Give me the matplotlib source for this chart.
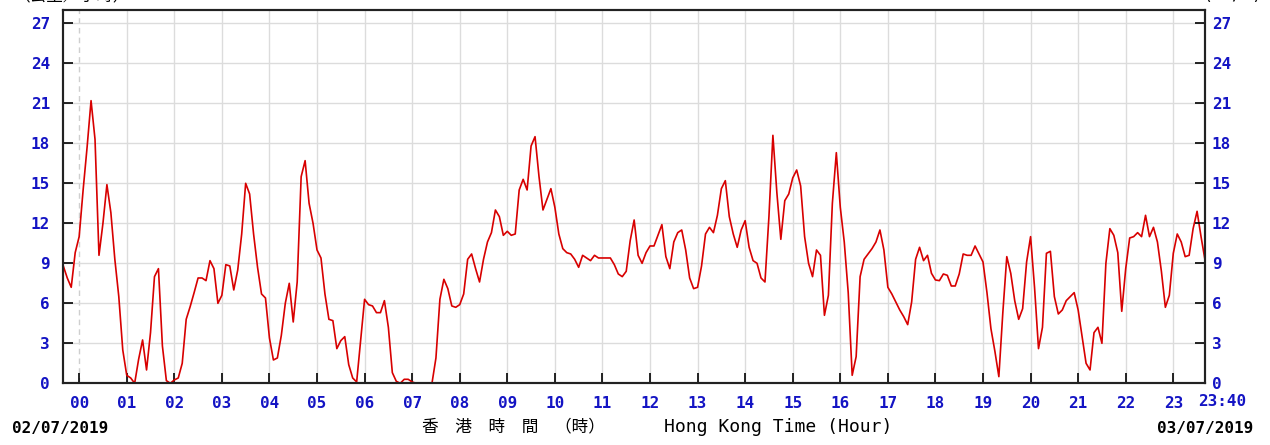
import numpy as np
import matplotlib
matplotlib.use('Agg')
import matplotlib.pyplot as plt

# wind speed (km/h), one reading every 5 minutes starting 23:40 of the previous day
start_min = -20
step_min = 5
speed = [
    8.8, 7.9, 7.2, 9.8,
    11.0, 14.5, 17.7, 21.2, 18.3, 9.6, 12.0, 14.9, 12.8, 9.3, 6.5, 2.5,
    0.6, 0.4, 0.0, 1.8, 3.25, 1.0, 3.8, 8.0, 8.6, 2.8, 0.2, 0.0,
    0.25, 0.4, 1.5, 4.8, 5.75, 6.8, 7.9, 7.9, 7.7, 9.2, 8.6, 6.0,
    6.6, 8.9, 8.8, 7.0, 8.5, 11.2, 15.0, 14.2, 11.2, 8.7, 6.7, 6.4,
    3.4, 1.75, 1.9, 3.6, 6.0, 7.5, 4.6, 7.6, 15.5, 16.7, 13.5, 12.0,
    10.0, 9.4, 6.7, 4.8, 4.7, 2.6, 3.2, 3.5, 1.4, 0.4, 0.1, 3.2,
    6.3, 5.9, 5.8, 5.3, 5.3, 6.2, 4.2, 0.8, 0.15, 0.0, 0.3, 0.3,
    0.1, 0.0, 0.0, 0.0, 0.0, 0.0, 1.9, 6.3, 7.8, 7.1, 5.8, 5.7,
    5.9, 6.7, 9.3, 9.7, 8.6, 7.6, 9.3, 10.6, 11.3, 13.0, 12.5, 11.1,
    11.4, 11.1, 11.2, 14.5, 15.3, 14.5, 17.8, 18.5, 15.5, 13.0, 13.8, 14.6,
    13.2, 11.2, 10.1, 9.8, 9.7, 9.3, 8.7, 9.6, 9.4, 9.2, 9.6, 9.4,
    9.4, 9.4, 9.4, 8.9, 8.2, 8.0, 8.4, 10.7, 12.25, 9.6, 9.0, 9.8,
    10.3, 10.3, 11.1, 11.9, 9.5, 8.6, 10.6, 11.3, 11.5, 10.0, 7.9, 7.1,
    7.2, 8.8, 11.2, 11.7, 11.3, 12.6, 14.6, 15.2, 12.5, 11.2, 10.2, 11.5,
    12.2, 10.2, 9.2, 9.0, 7.9, 7.6, 12.5, 18.6, 14.3, 10.8, 13.7, 14.2,
    15.4, 16.0, 14.8, 11.0, 9.0, 8.0, 10.0, 9.6, 5.1, 6.6, 13.5, 17.3,
    13.2, 10.6, 6.8, 0.6, 2.0, 8.0, 9.3, 9.7, 10.1, 10.6, 11.5, 10.0,
    7.2, 6.7, 6.1, 5.5, 5.0, 4.4, 6.1, 9.3, 10.2, 9.2, 9.6, 8.25,
    7.75, 7.7, 8.2, 8.1, 7.3, 7.3, 8.2, 9.7, 9.6, 9.6, 10.3, 9.7,
    9.1, 6.8, 4.1, 2.4, 0.5, 5.3, 9.5, 8.25, 6.2, 4.8, 5.6, 9.1,
    11.0, 7.2, 2.6, 4.2, 9.75, 9.9, 6.5, 5.2, 5.5, 6.2, 6.5, 6.8,
    5.5, 3.5, 1.5, 1.0, 3.8, 4.2, 3.0, 9.0, 11.6, 11.1, 9.8, 5.4,
    8.6, 10.9, 11.0, 11.3, 11.0, 12.6, 11.0, 11.7, 10.6, 8.4, 5.7, 6.6,
    9.75, 11.2, 10.6, 9.5, 9.6, 11.6, 12.9, 11.0, 9.25,
]
hour_labels = ['%02d' % h for h in range(24)]
y_ticks = list(range(0, 28, 3))
date_left = '02/07/2019'
date_right = '03/07/2019'
end_label = '23:40'

minutes = start_min + step_min * np.arange(len(speed))
hours = minutes / 60.0

W, H = 1270, 445
fig = plt.figure(figsize=(W / 100, H / 100), dpi=100)
ax = fig.add_axes([63.3 / W, (H - 383.3) / H, (1205 - 63.3) / W, (383.3 - 10) / H])

blue = '#1414c4'
tick_font = dict(family='DejaVu Sans Mono', weight='bold', size=11.5)

ax.plot(hours, speed, color='#d80000', lw=1.2)

ax.set_xlim(start_min / 60, minutes[-1] / 60)
ax.set_ylim(0, 28)

# grid
for h in range(1, 24):
    ax.axvline(h, color='#dcdcdc', lw=1, zorder=0)
ax.axvline(0, color='#cfcfcf', lw=1, ls=(0, (4, 3)), zorder=0)
for v in y_ticks:
    ax.axhline(v, color='#dcdcdc', lw=1, zorder=0)

ax.set_xticks(range(24))
ax.set_xticklabels(hour_labels, color=blue, **tick_font)
ax.set_yticks(y_ticks)
ax.set_yticklabels([str(v) for v in y_ticks], color=blue, **tick_font)
ax.tick_params(axis='x', direction='in', length=7, width=1.2, pad=9)
ax.tick_params(axis='y', direction='in', length=7, width=1.2, pad=9.5)

# right-hand scale
ax2 = ax.twinx()
ax2.set_ylim(ax.get_ylim())
ax2.set_yticks(y_ticks)
ax2.set_yticklabels([str(v) for v in y_ticks], color=blue, **tick_font)
ax2.tick_params(axis='y', direction='in', length=7, width=1.2, pad=4.8)

for a in (ax, ax2):
    for s in a.spines.values():
        s.set_color('#222222')
        s.set_linewidth(1.5)

ax.text(24.02, -(401 - 383.3) / 373.3, end_label, transform=ax.get_xaxis_transform(),
        ha='center', va='center', color=blue, clip_on=False, **tick_font)

ty = 1 - 428 / H
fig.text(12 / W, ty, date_left, ha='left', va='center', color='black', **tick_font)
fig.text(1253 / W, ty, date_right, ha='right', va='center', color='black', **tick_font)

fig.text(513 / W, 1 - 427 / H, '香　港　時　間　（時）', ha='center', va='center',
         family=['Noto Sans CJK TC', 'DejaVu Sans'], size=12, color='black')
fig.text(778 / W, 1 - 427 / H, 'Hong Kong Time (Hour)', ha='center', va='center',
         family='DejaVu Sans Mono', size=13, color='black')

# unit labels, mostly above the visible area as in the source image
fig.text(13 / W, 1 - 4 / H, '（公里／小時）', ha='left', va='bottom',
         family=['Noto Sans CJK TC', 'DejaVu Sans'], size=12, color='black')
fig.text(1262 / W, 1 - 4 / H, '(km/h)', ha='right', va='bottom',
         family='DejaVu Sans Mono', size=12, color='black')

fig.savefig('out.png', dpi=100)
